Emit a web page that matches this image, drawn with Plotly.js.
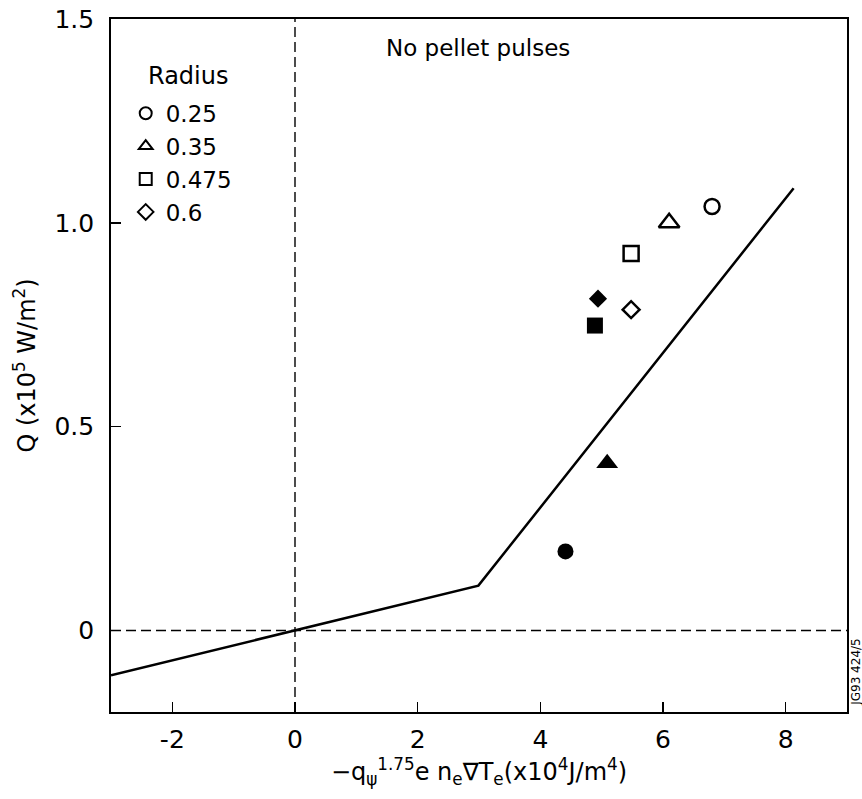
<!DOCTYPE html>
<html>
<head>
<meta charset="utf-8">
<script src="https://cdn.plot.ly/plotly-3.0.1.min.js"></script>
<style>html,body{margin:0;padding:0;background:#fff;}#chart{width:862px;height:799px;}</style>
</head>
<body>
<div id="chart"></div>
<script>
// Data
const radiusLabels = ['0.25', '0.35', '0.475', '0.6'];
const openX = [6.80, 6.10, 5.48, 5.48];
const openY = [1.04, 1.00, 0.925, 0.787];
const filledX = [4.41, 5.09, 4.89, 4.94];
const filledY = [0.194, 0.41, 0.748, 0.814];
const symbolsOpen = ['circle-open', 'triangle-up-open', 'square-open', 'diamond-open'];
const symbolsFilled = ['circle', 'triangle-up', 'square', 'diamond'];
const fitX = [-3, 0, 2.99, 8.13];
const fitY = [-0.11, 0, 0.11, 1.085];
const xTicks = [-2, 0, 2, 4, 6, 8];
const yTicks = [0, 0.5, 1.0, 1.5];
const yTickText = ['0', '0.5', '1.0', '1.5'];
const xRange = [-3, 9];
const yRange = [-0.2, 1.5];

const font = 'DejaVu Sans, Liberation Sans, Arial, sans-serif';
const traces = [];

// dashed reference lines at x=0 and y=0
traces.push({x: [0, 0], y: yRange, mode: 'lines', line: {color: '#000', width: 1.4, dash: '10px,5px'}, showlegend: false, hoverinfo: 'skip'});
traces.push({x: xRange, y: [0, 0], mode: 'lines', line: {color: '#000', width: 1.4, dash: '10px,5px'}, showlegend: false, hoverinfo: 'skip'});

// fitted line
traces.push({x: fitX, y: fitY, mode: 'lines', line: {color: '#000', width: 2.5}, showlegend: false});

const sizes = [15, 18, 15, 13];
for (let i = 0; i < radiusLabels.length; i++) {
  traces.push({
    x: [openX[i]], y: [openY[i]], mode: 'markers', name: radiusLabels[i],
    marker: {symbol: symbolsOpen[i], size: sizes[i], color: '#000', line: {width: 2.5, color: '#000'}},
    showlegend: true
  });
}
for (let i = 0; i < radiusLabels.length; i++) {
  traces.push({
    x: [filledX[i]], y: [filledY[i]], mode: 'markers', name: radiusLabels[i] + ' (filled)',
    marker: {symbol: symbolsFilled[i], size: sizes[i] + 1, color: '#000'},
    showlegend: false
  });
}

const layout = {
  width: 862, height: 799,
  margin: {l: 111, r: 15, t: 19, b: 87},
  paper_bgcolor: '#fff', plot_bgcolor: '#fff',
  font: {family: font, size: 23, color: '#000'},
  showlegend: true,
  legend: {
    x: 0.02, y: 0.895, xanchor: 'left', yanchor: 'top',
    font: {size: 23}, bgcolor: 'rgba(0,0,0,0)', tracegroupgap: 0, itemwidth: 30,
    itemsizing: 'constant'
  },
  xaxis: {
    range: xRange, tickvals: xTicks, ticktext: xTicks.map(String),
    ticks: 'inside', ticklen: 10, tickwidth: 1.5, tickcolor: '#000',
    showline: true, linecolor: '#000', linewidth: 1.8, mirror: true,
    showgrid: false, zeroline: false,
    tickfont: {size: 25}, ticklabelstandoff: 4,
    title: {text: '\u2212q<sub>\u03c8</sub><sup>1.75</sup>e n<sub>e</sub>\u2207T<sub>e</sub>(x10<sup>4</sup>J/m<sup>4</sup>)', font: {size: 24}, standoff: 10}
  },
  yaxis: {
    range: yRange, tickvals: yTicks, ticktext: yTickText,
    ticks: 'inside', ticklen: 10, tickwidth: 1.5, tickcolor: '#000',
    showline: true, linecolor: '#000', linewidth: 1.8, mirror: true,
    showgrid: false, zeroline: false,
    tickfont: {size: 25}, ticklabelstandoff: 10,
    title: {text: 'Q (x10<sup>5</sup> W/m<sup>2</sup>)', font: {size: 24}, standoff: 12}
  },
  annotations: [
    {x: 2.98, y: 1.43, xref: 'x', yref: 'y', text: 'No pellet pulses', showarrow: false, font: {size: 23}},
    {x: 0.048, y: 0.918, xref: 'paper', yref: 'paper', xanchor: 'left', yanchor: 'middle', text: 'Radius', showarrow: false, font: {size: 24}},
    {x: 1.0, y: 0.058, xref: 'paper', yref: 'paper', xanchor: 'left', yanchor: 'middle', text: 'JG93 424/5', textangle: -90, showarrow: false, font: {size: 12}, xshift: 0}
  ]
};

Plotly.newPlot('chart', traces, layout, {displayModeBar: false, staticPlot: true});
</script>
</body>
</html>
